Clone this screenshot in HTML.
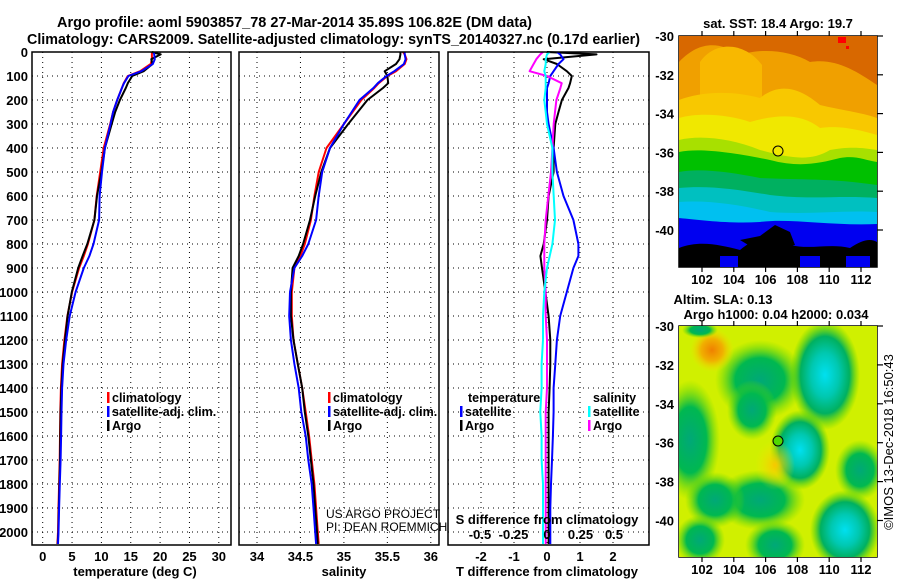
<!DOCTYPE html>
<html><head><meta charset="utf-8">
<style>
html,body{margin:0;padding:0;background:#fff;}
svg{display:block;font-family:"Liberation Sans",sans-serif;}
.b{font-weight:bold;}
</style></head>
<body>
<svg id="chart" width="900" height="580" viewBox="0 0 900 580" xmlns="http://www.w3.org/2000/svg">
<defs>
<radialGradient id="gG" cx="50%" cy="50%" r="50%"><stop offset="0" stop-color="#00a878"/><stop offset="0.55" stop-color="#00b850"/><stop offset="1" stop-color="#60d800" stop-opacity="0"/></radialGradient>
<radialGradient id="gC" cx="50%" cy="50%" r="50%"><stop offset="0" stop-color="#00e0f0"/><stop offset="0.4" stop-color="#00c8b0"/><stop offset="0.7" stop-color="#00b060"/><stop offset="1" stop-color="#40d000" stop-opacity="0"/></radialGradient>
<radialGradient id="gO" cx="50%" cy="50%" r="50%"><stop offset="0" stop-color="#f08000"/><stop offset="0.5" stop-color="#f0b000"/><stop offset="1" stop-color="#f0e000" stop-opacity="0"/></radialGradient>
<radialGradient id="gY" cx="50%" cy="50%" r="50%"><stop offset="0" stop-color="#f8c800"/><stop offset="1" stop-color="#f0e800" stop-opacity="0"/></radialGradient>
<clipPath id="m1c"><rect x="679" y="36" width="198" height="231"/></clipPath>
<clipPath id="m2c"><rect x="679" y="326" width="198" height="231"/></clipPath>
</defs>
<g>
<text class="b" x="57" y="27" font-size="14.5" textLength="475" lengthAdjust="spacingAndGlyphs">Argo profile: aoml 5903857_78 27-Mar-2014 35.89S 106.82E (DM data)</text>
<text class="b" x="27" y="44" font-size="14.5" textLength="613" lengthAdjust="spacingAndGlyphs">Climatology: CARS2009. Satellite-adjusted climatology: synTS_20140327.nc (0.17d earlier)</text>
</g>
<g id="grid"></g>
<g id="marks"></g>
<g id="frames"></g>
<g id="labels" font-size="13" class="b"></g>

<!-- Map 1: SST -->
<g clip-path="url(#m1c)">
<rect x="679" y="36" width="198" height="231" fill="#d86800"/>
<path d="M679,62 C700,40 720,42 740,55 C760,48 790,50 810,62 C835,58 855,70 877,85 L877,267 L679,267Z" fill="#f0a000"/>
<path d="M700,62 C715,40 745,42 762,65 L762,105 L700,105Z" fill="#f8b800"/>
<path d="M679,100 C700,92 730,90 760,98 C780,82 800,88 820,105 C840,110 860,112 877,118 L877,267 L679,267Z" fill="#f8c800"/>
<path d="M679,118 C700,112 730,115 750,122 C775,115 800,112 820,128 C840,125 860,130 877,135 L877,267 L679,267Z" fill="#f0e800"/>
<path d="M679,140 C700,135 730,138 760,150 C790,158 810,162 830,150 C850,146 865,148 877,150 L877,267 L679,267Z" fill="#a8e000"/>
<path d="M679,152 C700,148 730,152 770,160 C800,168 820,163 840,158 C855,155 865,160 877,162 L877,267 L679,267Z" fill="#00c000"/>
<path d="M679,172 C700,168 730,172 760,178 C800,180 830,178 877,185 L877,267 L679,267Z" fill="#00b060"/>
<path d="M679,188 C710,185 740,190 770,195 C810,200 840,195 877,198 L877,267 L679,267Z" fill="#00c0c0"/>
<path d="M679,202 C710,200 740,205 770,212 C810,215 840,210 877,212 L877,267 L679,267Z" fill="#00c0f0"/>
<path d="M679,218 C700,220 730,224 760,222 C790,218 830,226 877,224 L877,267 L679,267Z" fill="#0000f0"/>
<path d="M679,248 C700,240 720,245 740,250 C755,238 770,230 790,245 C810,250 830,243 850,248 C862,240 870,238 877,242 L877,267 L679,267Z" fill="#000000"/>
<path d="M740,240 L760,236 L775,225 L790,232 L795,245 L760,252Z" fill="#000"/>
<rect x="720" y="256" width="18" height="11" fill="#0000f0"/>
<rect x="800" y="256" width="20" height="11" fill="#0000f0"/>
<rect x="846" y="256" width="24" height="11" fill="#0000f0"/>
<rect x="838" y="37" width="8" height="6" fill="#ff0000"/>
<rect x="846" y="46" width="3" height="3" fill="#ff0000"/>
</g>
<circle cx="778" cy="151" r="5" fill="#f0e800" stroke="#000" stroke-width="1"/>
<!-- Map 2: SLA -->
<g clip-path="url(#m2c)">
<rect x="679" y="326" width="198" height="231" fill="#d0f000"/>
<ellipse cx="690" cy="440" rx="30" ry="60" fill="url(#gG)"/>
<ellipse cx="760" cy="380" rx="45" ry="40" fill="url(#gG)"/>
<ellipse cx="752" cy="410" rx="25" ry="30" fill="url(#gG)"/>
<ellipse cx="825" cy="375" rx="35" ry="55" fill="url(#gC)"/>
<ellipse cx="800" cy="450" rx="30" ry="40" fill="url(#gC)"/>
<ellipse cx="760" cy="500" rx="45" ry="30" fill="url(#gG)"/>
<ellipse cx="715" cy="500" rx="30" ry="28" fill="url(#gG)"/>
<ellipse cx="845" cy="530" rx="35" ry="40" fill="url(#gC)"/>
<ellipse cx="775" cy="545" rx="30" ry="25" fill="url(#gG)"/>
<ellipse cx="860" cy="470" rx="25" ry="30" fill="url(#gG)"/>
<ellipse cx="700" cy="540" rx="25" ry="25" fill="url(#gG)"/>
<ellipse cx="712" cy="350" rx="22" ry="22" fill="url(#gO)"/>
<ellipse cx="775" cy="465" rx="20" ry="25" fill="url(#gY)"/>
<ellipse cx="700" cy="330" rx="18" ry="8" fill="url(#gG)"/>
</g>
<circle cx="778" cy="441" r="5" fill="#50d800" stroke="#000" stroke-width="1"/>
<g class="b" font-size="13" text-anchor="middle">
<text x="778" y="28">sat. SST: 18.4 Argo: 19.7</text>
<text x="723" y="304" text-anchor="middle">Altim. SLA: 0.13</text>
<text x="776" y="319">Argo h1000: 0.04 h2000: 0.034</text>
</g>
<text x="893" y="442" font-size="13" text-anchor="middle" transform="rotate(-90 893 442)">©IMOS 13-Dec-2018 16:50:43</text>
<g font-size="12">
<text x="326" y="518">US ARGO PROJECT</text>
<text x="326" y="531">PI: DEAN ROEMMICH</text>
</g>
</svg>
<script>
// ---- data ----
var depths = [0,10,30,50,80,100,130,150,200,250,300,400,500,600,700,800,850,900,1000,1100,1200,1300,1400,1500,1600,1700,1800,1900,2000,2050];
var tClim = [18.6,18.6,18.6,18.4,16.6,14.5,13.8,13.5,12.7,12,11.5,10.4,9.8,9.2,8.8,7.7,7.0,6.2,5.0,4.2,3.7,3.3,3.1,3.0,2.95,2.9,2.8,2.7,2.6,2.5];
var tSat = [18.9,19.0,19.1,18.75,16.8,14.6,13.85,13.5,12.7,12,11.55,10.6,10.1,9.7,9.6,8.65,7.95,7.0,5.6,4.6,4.0,3.55,3.3,3.2,3.13,3.05,2.92,2.8,2.7,2.6];
var tArgo = [18.6,20.1,18.5,18.7,17.2,15.25,14.5,14.15,13.15,12.35,11.75,10.6,10.0,9.25,8.8,7.6,6.8,6.05,4.95,4.25,3.8,3.4,3.18,3.05,3.0,2.95,2.85,2.75,2.65,2.55];
var sClim = [35.68,35.7,35.72,35.7,35.6,35.5,35.4,35.35,35.2,35.1,35.0,34.8,34.71,34.66,34.62,34.55,34.5,34.43,34.4,34.4,34.42,34.47,34.52,34.56,34.6,34.63,34.66,34.68,34.7,34.71];
var sSat = [35.7,35.7,35.71,35.69,35.58,35.49,35.39,35.34,35.18,35.09,35.0,34.84,34.75,34.71,34.68,34.59,34.52,34.43,34.38,34.37,34.39,34.43,34.48,34.51,34.56,34.59,34.63,34.65,34.67,34.68];
var sArgo = [35.65,35.65,35.64,35.6,35.47,35.5,35.51,35.45,35.27,35.16,35.05,34.84,34.74,34.67,34.61,34.53,34.48,34.41,34.39,34.39,34.42,34.47,34.52,34.55,34.59,34.62,34.65,34.67,34.69,34.7];
var tSatDiff = [0.3,0.4,0.5,0.35,0.2,0.1,0.05,0,0,0,0.05,0.2,0.3,0.5,0.8,0.95,0.95,0.8,0.6,0.4,0.3,0.25,0.2,0.2,0.18,0.15,0.12,0.1,0.1,0.1];
var tArgoDiff = [0,1.5,-0.1,0.3,0.6,0.75,0.7,0.65,0.45,0.35,0.25,0.2,0.2,0.05,0,-0.1,-0.2,-0.15,-0.05,0.05,0.1,0.1,0.08,0.05,0.05,0.05,0.05,0.05,0.05,0.05];
var sSatDiff = [0.02,0,-0.01,-0.01,-0.02,-0.01,-0.01,-0.01,-0.02,-0.01,0,0.04,0.04,0.05,0.06,0.04,0.02,0,-0.02,-0.03,-0.03,-0.04,-0.04,-0.05,-0.04,-0.04,-0.03,-0.03,-0.03,-0.03];
var sArgoDiff = [-0.03,-0.05,-0.08,-0.1,-0.13,0,0.11,0.1,0.07,0.06,0.05,0.04,0.03,0.01,-0.01,-0.02,-0.02,-0.02,-0.01,-0.01,0,0,0,-0.01,-0.01,-0.01,-0.01,-0.01,-0.01,-0.01];
var depthTicks = [0,100,200,300,400,500,600,700,800,900,1000,1100,1200,1300,1400,1500,1600,1700,1800,1900,2000];
var tTicks = [0,5,10,15,20,25,30];
var sTicks = [34,34.5,35,35.5,36];
var sTickLabels = ["34","34.5","35","35.5","36"];
var tdTicks = [-2,-1,0,1,2];
var sdTicks = [-0.5,-0.25,0,0.25,0.5];
var sdTickLabels = ["-0.5","-0.25","0","0.25","0.5"];
var latTicks = [-30,-32,-34,-36,-38,-40];
var lonTicks = [102,104,106,108,110,112];

// ---- axes ----
var NS = "http://www.w3.org/2000/svg";
var top0 = 52, bot = 545;
function yD(d){ return 52 + d*0.24; }
function xT(v){ return 42.7 + v*5.87; }
function xS(v){ return 257 + (v-34)*86.9; }
function xTD(v){ return 547 + v*33; }
function xSD(v){ return 547 + v*134; }
function yLat1(v){ return 36 + (-30 - v)*19.4; }
function yLat2(v){ return 326 + (-30 - v)*19.45; }
function xLon(v){ return 702 + (v-102)*15.9; }
var panels = [[32,231],[239,439],[448,649]];

function mk(tag, attrs, parent){
  var e = document.createElementNS(NS, tag);
  for (var k in attrs) e.setAttribute(k, attrs[k]);
  parent.appendChild(e);
  return e;
}
var grid = document.getElementById('grid');
var marks = document.getElementById('marks');
var frames = document.getElementById('frames');
var labels = document.getElementById('labels');

panels.forEach(function(p){
  depthTicks.forEach(function(d){
    var l = mk('line',{x1:p[0],x2:p[1],y1:yD(d),y2:yD(d),stroke:'#000','stroke-width':1,'stroke-dasharray':'1,4'},grid);
    
    
  });
});
function vgrid(ticks, fx){
  ticks.forEach(function(t){
    var l = mk('line',{x1:fx(t),x2:fx(t),y1:top0,y2:bot,stroke:'#000','stroke-width':1,'stroke-dasharray':'1,4'},grid);
    
    
  });
}
vgrid(tTicks, xT); vgrid(sTicks, xS); vgrid(tdTicks, xTD);

panels.forEach(function(p){
  var r = mk('rect',{x:p[0],y:top0,width:p[1]-p[0],height:bot-top0,fill:'none',stroke:'#000','stroke-width':1.5},frames);
  
  
});

depthTicks.forEach(function(d){
  var t = mk('text',{x:28,y:yD(d)+5,'text-anchor':'end'},labels);
  t.textContent = d;
  
  
});
tTicks.forEach(function(v){
  var t = mk('text',{x:xT(v),y:561,'text-anchor':'middle'},labels);
  t.textContent = v;
  
  
});
sTicks.forEach(function(v,i){
  var t = mk('text',{x:xS(v),y:561,'text-anchor':'middle'},labels);
  t.textContent = sTickLabels[i];
  
  
});
tdTicks.forEach(function(v){
  var t = mk('text',{x:xTD(v),y:561,'text-anchor':'middle'},labels);
  t.textContent = v;
  
  
});
sdTicks.forEach(function(v,i){
  var t = mk('text',{x:xSD(v),y:539,'text-anchor':'middle'},labels);
  t.textContent = sdTickLabels[i];
  
  
});
[["temperature (deg C)",135],["salinity",344],["T difference from climatology",547]].forEach(function(a){
  var t = mk('text',{x:a[1],y:576,'text-anchor':'middle'},labels);
  t.textContent = a[0];
  
  
});
var sdt = mk('text',{x:547,y:524,'text-anchor':'middle'},labels);
sdt.textContent = 'S difference from climatology';



function series(vals, fx, color, name){
  var pts = vals.map(function(v,i){ return fx(v).toFixed(1)+','+yD(depths[i]).toFixed(1); }).join(' ');
  var pl = mk('polyline',{points:pts,fill:'none',stroke:color,'stroke-width':2,'stroke-linejoin':'round'},marks);
  
  
}
series(tClim, xT, '#ff0000', 'temperature-climatology-line');
series(tArgo, xT, '#000000', 'temperature-argo-line');
series(tSat, xT, '#0000ff', 'temperature-satellite-line');
series(sClim, xS, '#ff0000', 'salinity-climatology-line');
series(sArgo, xS, '#000000', 'salinity-argo-line');
series(sSat, xS, '#0000ff', 'salinity-satellite-line');
series(tArgoDiff, xTD, '#000000', 'tdiff-argo-line');
series(tSatDiff, xTD, '#0000ff', 'tdiff-satellite-line');
series(sArgoDiff, xSD, '#ff00ff', 'sdiff-argo-line');
series(sSatDiff, xSD, '#00ffff', 'sdiff-satellite-line');

function legend(x, y, color, text, name){
  var l = mk('rect',{x:x,y:y-10,width:2.5,height:11,fill:color},labels);
  
  
  var t = mk('text',{x:x+5,y:y,'font-size':12.5},labels);
  t.textContent = text;
  
  
}
legend(107,402,'#ff0000','climatology','legend-t-climatology');
legend(107,416,'#0000ff','satellite-adj. clim.','legend-t-satellite');
legend(107,430,'#000000','Argo','legend-t-argo');
legend(328,402,'#ff0000','climatology','legend-s-climatology');
legend(328,416,'#0000ff','satellite-adj. clim.','legend-s-satellite');
legend(328,430,'#000000','Argo','legend-s-argo');
var lt = mk('text',{x:468,y:402,'font-size':12.5},labels); lt.textContent='temperature';


var ls = mk('text',{x:593,y:402,'font-size':12.5},labels); ls.textContent='salinity';


legend(460,416,'#0000ff','satellite','legend-tdiff-satellite');
legend(460,430,'#000000','Argo','legend-tdiff-argo');
legend(588,416,'#00ffff','satellite','legend-sdiff-satellite');
legend(588,430,'#ff00ff','Argo','legend-sdiff-argo');

[[36,yLat1],[326,yLat2]].forEach(function(m){
  var r = mk('rect',{x:679,y:m[0],width:198,height:231,fill:'none',stroke:'#000','stroke-width':1.5},frames);
  
  
  latTicks.forEach(function(v){
    var y = m[1](v);
    mk('line',{x1:877,x2:883,y1:y,y2:y,stroke:'#000','stroke-width':1.2},frames);
    var t = mk('text',{x:674,y:y+5,'text-anchor':'end'},labels);
    t.textContent = v;
    
    
  });
  lonTicks.forEach(function(v){
    var x = xLon(v);
    mk('line',{x1:x,x2:x,y1:m[0]-5,y2:m[0],stroke:'#000','stroke-width':1.2},frames);
    mk('line',{x1:x,x2:x,y1:m[0]+231,y2:m[0]+236,stroke:'#000','stroke-width':1.2},frames);
    var t = mk('text',{x:x,y:m[0]+248,'text-anchor':'middle'},labels);
    t.textContent = v;
    
    
  });
});
</script>
</body></html>
